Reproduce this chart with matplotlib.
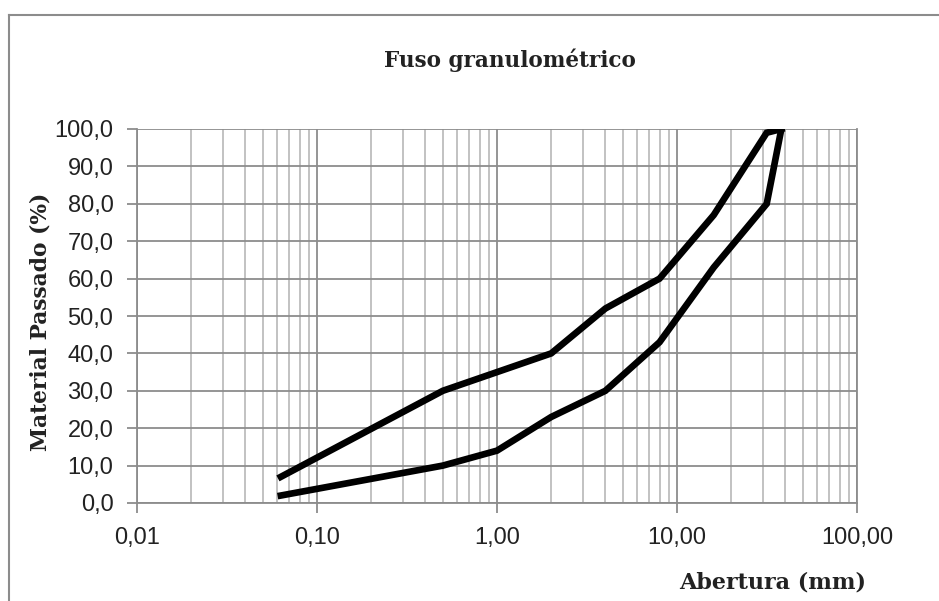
import numpy as np
import matplotlib
matplotlib.use("Agg")
import matplotlib.pyplot as plt
from matplotlib.lines import Line2D
from matplotlib.ticker import FixedLocator, LogLocator, FuncFormatter, NullFormatter

# Fuso granulometrico - limites superior e inferior
upper_mm = [0.063, 0.5, 2.0, 4.0, 8.0, 16.0, 31.5, 38.0]
upper_pct = [7.0, 30.0, 40.0, 52.0, 60.0, 77.0, 99.0, 100.0]
lower_mm = [0.063, 0.5, 1.0, 2.0, 4.0, 8.0, 16.0, 31.5, 38.0]
lower_pct = [2.0, 10.0, 14.0, 23.0, 30.0, 43.0, 63.0, 80.0, 100.0]

x_ticks = [0.01, 0.1, 1, 10, 100]
y_ticks = list(range(0, 101, 10))

def br_fmt(v, dec):
    return f"{v:.{dec}f}".replace(".", ",")

fig = plt.figure(figsize=(9.39, 6.01), dpi=100)
ax = fig.add_axes([137 / 939, 1 - 503 / 601, 720 / 939, 374 / 601])

ax.plot(upper_mm, upper_pct, color="black", lw=4.8, solid_joinstyle="miter", zorder=5)
ax.plot(lower_mm, lower_pct, color="black", lw=4.8, solid_joinstyle="miter", zorder=5)

ax.set_xscale("log")
ax.set_xlim(0.01, 100)
ax.set_ylim(0, 100)

ax.xaxis.set_major_locator(FixedLocator(x_ticks))
ax.xaxis.set_minor_locator(LogLocator(base=10, subs=np.arange(2, 10)))
ax.xaxis.set_major_formatter(FuncFormatter(lambda v, p: br_fmt(v, 2)))
ax.xaxis.set_minor_formatter(NullFormatter())
ax.yaxis.set_major_locator(FixedLocator(y_ticks))
ax.yaxis.set_major_formatter(FuncFormatter(lambda v, p: br_fmt(v, 1)))

ax.grid(True, which="major", color="#8c8c8c", lw=1.3)
ax.grid(True, which="minor", axis="x", color="#bdbdbd", lw=1.3)
ax.set_axisbelow(True)

for side in ["left", "bottom", "right"]:
    ax.spines[side].set_color("#8c8c8c")
    ax.spines[side].set_linewidth(1.3)
ax.spines["top"].set_visible(False)

ax.tick_params(axis="both", which="major", color="#8c8c8c", width=1.3, length=7,
               labelsize=17, labelcolor="#222222")
ax.tick_params(axis="y", pad=10)
ax.tick_params(axis="x", pad=10.5)
ax.tick_params(axis="x", which="minor", length=0)
for lbl in ax.get_xticklabels() + ax.get_yticklabels():
    lbl.set_fontfamily("Liberation Sans")

serif = "DejaVu Serif"
fig.text(0.543, 0.9, "Fuso granulométrico", ha="center", va="center",
         fontsize=15.5, fontweight="bold", family=serif, color="#222222")
fig.text(0.823, 0.03, "Abertura (mm)", ha="center", va="center",
         fontsize=16, fontweight="bold", family=serif, color="#222222")
fig.text(0.043, 0.464, "Material Passado (%)", ha="center", va="center", rotation=90,
         fontsize=15.7, fontweight="bold", family=serif, color="#222222")

# moldura externa do grafico
fig.add_artist(Line2D([9 / 939, 9 / 939], [0, 1 - 15 / 601], transform=fig.transFigure,
                      color="#8c8c8c", lw=1.5))
fig.add_artist(Line2D([9 / 939, 1], [1 - 15 / 601, 1 - 15 / 601], transform=fig.transFigure,
                      color="#8c8c8c", lw=1.5))

fig.savefig("out.png", dpi=100)
